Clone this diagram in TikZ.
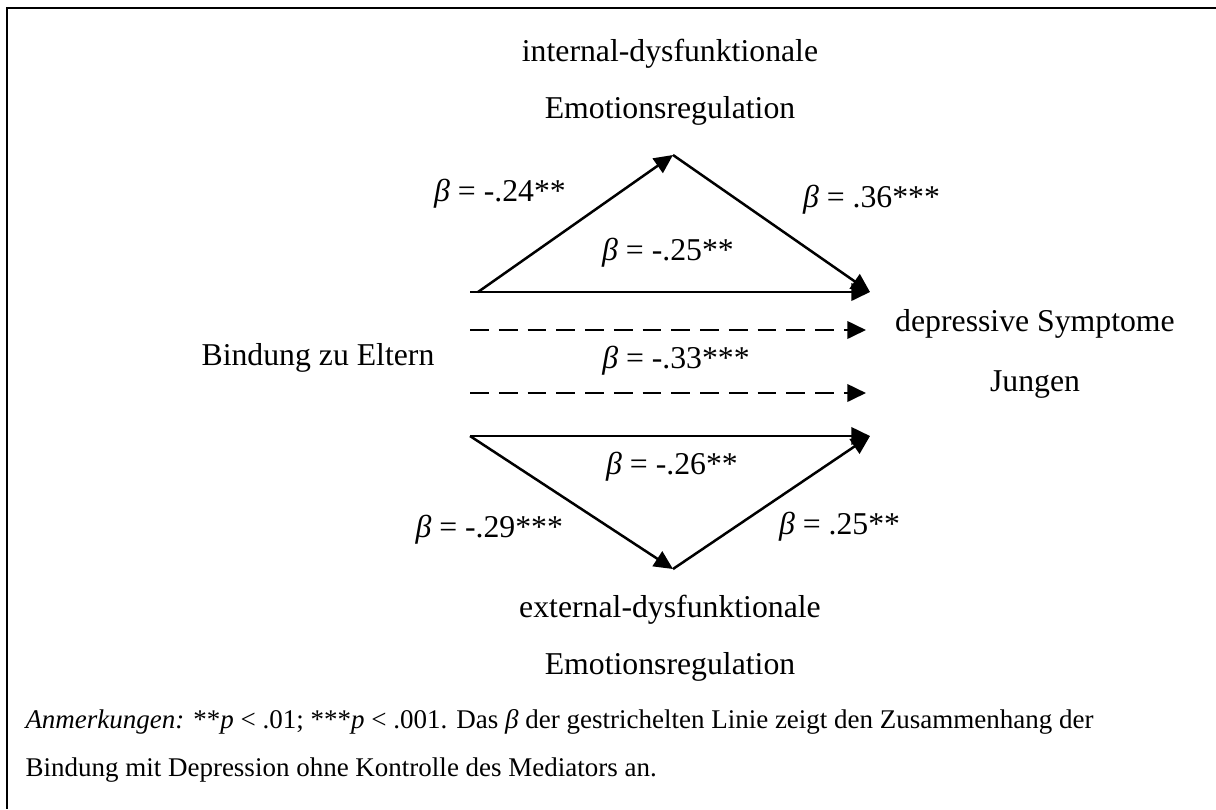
\documentclass[tikz,border=0pt]{standalone}
\usepackage{fontspec}
\setmainfont{Liberation Serif}
\usetikzlibrary{arrows.meta, positioning}

\begin{document}
\begin{tikzpicture}[
  x=0.4pt, y=-0.4pt,
  link/.style={-{Triangle[length=7.5pt, width=7pt]}, line width=1pt},
  total/.style={link, dash pattern=on 7.5pt off 4pt},
  var/.style={font=\fontsize{12.7}{23}\selectfont, align=center, inner sep=0pt},
  coef/.style={font=\fontsize{12.7}{15}\selectfont, inner sep=1pt},
  note/.style={font=\fontsize{10.8}{19.2}\selectfont, align=left,
               anchor=north west, inner sep=0pt}
]
\def\xL{470}
\def\xM{673}
\def\xR{870}

\useasboundingbox (0,0) rectangle (1216,809);
\draw[line width=1.1pt] (1216,8) -- (7,8) -- (7,809);

% variables
\node[var] (intm) at (670, 82) {internal-dysfunktionale\\Emotionsregulation};
\node[var] (extm) at (670, 638) {external-dysfunktionale\\Emotionsregulation};
\node[var] (src) at (318, 358) {Bindung zu Eltern};
\node[var, font=\fontsize{12.7}{24}\selectfont] (dep) at (1035, 354)
  {depressive Symptome\\Jungen};

% arrow ends
\coordinate (a) at (\xL, 292);
\coordinate (a1) at (478, 292);
\coordinate (top) at (\xM, 155);
\coordinate (a2) at (\xR, 292);
\coordinate (d1) at (\xL, 330);
\coordinate (d1e) at (866, 330);
\coordinate (d2) at (\xL, 393);
\coordinate (d2e) at (866, 393);
\coordinate (b) at (\xL, 436);
\coordinate (bot) at (\xM, 569);
\coordinate (b2) at (\xR, 436);

\draw[link] (a1) -- (top);
\draw[link] (top) -- (a2);
\draw[link] (a) -- (a2);
\draw[total] (d1) -- (d1e);
\draw[total] (d2) -- (d2e);
\draw[link] (b) -- (b2);
\draw[link] (b) -- (bot);
\draw[link] (bot) -- (b2);

% coefficients
\node[coef] (c1) at (500, 194) {\textit{β} = -.24**};
\node[coef, anchor=west] (c2) at (800, 200) {\textit{β} = .36***};
\node[coef] (c3) at (668, 253) {\textit{β} = -.25**};
\node[coef] (c4) at (676, 361) {\textit{β} = -.33***};
\node[coef] (c5) at (672, 467) {\textit{β} = -.26**};
\node[coef, anchor=east] (c6) at (566, 530) {\textit{β} = -.29***};
\node[coef, anchor=west] (c7) at (776, 527) {\textit{β} = .25**};

\node[note] (n) at (25, 709)
  {\textit{Anmerkungen:} **\textit{p} < .01; ***\textit{p} < .001. Das \textit{β} der gestrichelten Linie zeigt den Zusammenhang der\\
   Bindung mit Depression ohne Kontrolle des Mediators an.};
\end{tikzpicture}
\end{document}
